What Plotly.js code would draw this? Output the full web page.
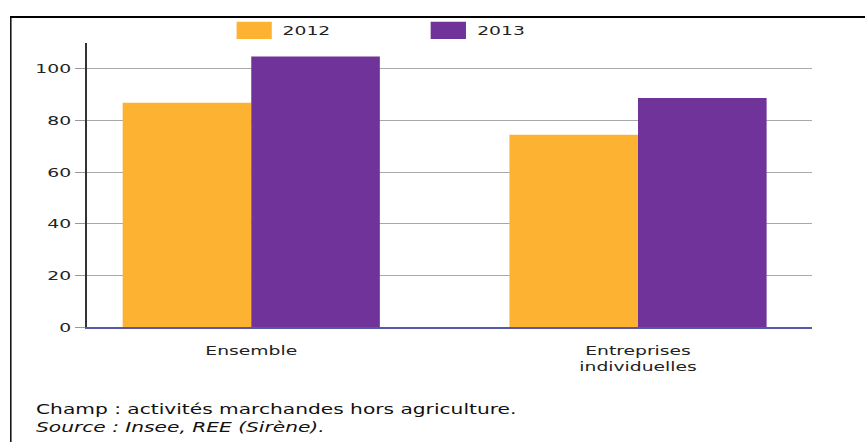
<!DOCTYPE html>
<html>
<head>
<meta charset="utf-8">
<script src="https://cdn.plot.ly/plotly-3.0.1.min.js"></script>
<style>
  html, body { margin:0; padding:0; background:#fff; overflow:hidden; }
  #wrap { position:absolute; left:0; top:0; width:600px; height:442px;
          transform:scaleX(1.441667); transform-origin:0 0; }
  #frame { position:absolute; left:7.4px; top:16px; width:700px; height:600px;
           border-left:1.4px solid #000; border-top:2px solid #000; }
  #chart { position:absolute; left:0; top:0; width:600px; height:442px; }
</style>
</head>
<body>
<div id="wrap">
  <div id="frame"></div>
  <div id="chart"></div>
</div>
<script>
// ---- data ----
const categories = ['Ensemble', 'Entreprises individuelles'];
const tickLabels = ['Ensemble', 'Entreprises<br>individuelles'];
const seriesNames = ['2012', '2013'];
const values2012 = [86.9, 74.5];
const values2013 = [104.8, 88.7];
const yTicks = [0, 20, 40, 60, 80, 100];
const footnote1 = 'Champ : activités marchandes hors agriculture.';
const footnote2 = 'Source : Insee, REE (Sirène).';

const colors = ['#FDB232', '#6F3399'];
const font = 'DejaVu Sans, Verdana, sans-serif';

const traces = [
  { type:'bar', name:seriesNames[0], x:categories, y:values2012,
    marker:{ color:colors[0], line:{ width:0 } }, hoverinfo:'none' },
  { type:'bar', name:seriesNames[1], x:categories, y:values2013,
    marker:{ color:colors[1], line:{ width:0 } }, hoverinfo:'none' }
];

// legend (custom, in paper coordinates)
const legendShapes = [
  { type:'rect', xref:'paper', yref:'paper', x0:0.207, x1:0.2555, y0:1.014, y1:1.075,
    fillcolor:colors[0], line:{ width:0 } },
  { type:'rect', xref:'paper', yref:'paper', x0:0.4746, x1:0.5233, y0:1.014, y1:1.075,
    fillcolor:colors[1], line:{ width:0 } }
];
const legendTexts = [
  { xref:'paper', yref:'paper', x:0.267, y:1.045, xanchor:'left', yanchor:'middle',
    text:seriesNames[0], showarrow:false, font:{ family:font, size:13, color:'#222' } },
  { xref:'paper', yref:'paper', x:0.535, y:1.045, xanchor:'left', yanchor:'middle',
    text:seriesNames[1], showarrow:false, font:{ family:font, size:13, color:'#222' } }
];

const layout = {
  width:600, height:442,
  margin:{ l:60, r:37, t:43, b:115, pad:0 },
  paper_bgcolor:'rgba(0,0,0,0)', plot_bgcolor:'rgba(0,0,0,0)',
  font:{ family:font, size:13, color:'#222' },
  barmode:'group', bargap:0.335, bargroupgap:0,
  showlegend:false,
  xaxis:{
    type:'category', range:[-0.426, 1.449],
    tickvals:categories, ticktext:tickLabels,
    showgrid:false, zeroline:false,
    showline:true, linecolor:'#5858aa', linewidth:2,
    ticks:'', ticklabelstandoff:10,
    tickfont:{ family:font, size:13, color:'#222' }
  },
  yaxis:{
    range:[0, 110], tickvals:yTicks,
    showgrid:true, gridcolor:'#a8a8a8', gridwidth:1,
    zeroline:false,
    showline:true, linecolor:'#333', linewidth:1.1,
    ticks:'outside', ticklen:7, tickcolor:'#999', tickwidth:1,
    tickfont:{ family:font, size:13, color:'#222' }
  },
  shapes:legendShapes,
  annotations:legendTexts.concat([
    { xref:'paper', yref:'paper', x:-0.0736, y:-0.322, xanchor:'left', yanchor:'middle',
      align:'left', showarrow:false,
      text:footnote1 + '<br><i>' + footnote2 + '</i>',
      font:{ family:font, size:14, color:'#111' } }
  ])
};

Plotly.newPlot('chart', traces, layout, { staticPlot:true, displayModeBar:false });
</script>
</body>
</html>
